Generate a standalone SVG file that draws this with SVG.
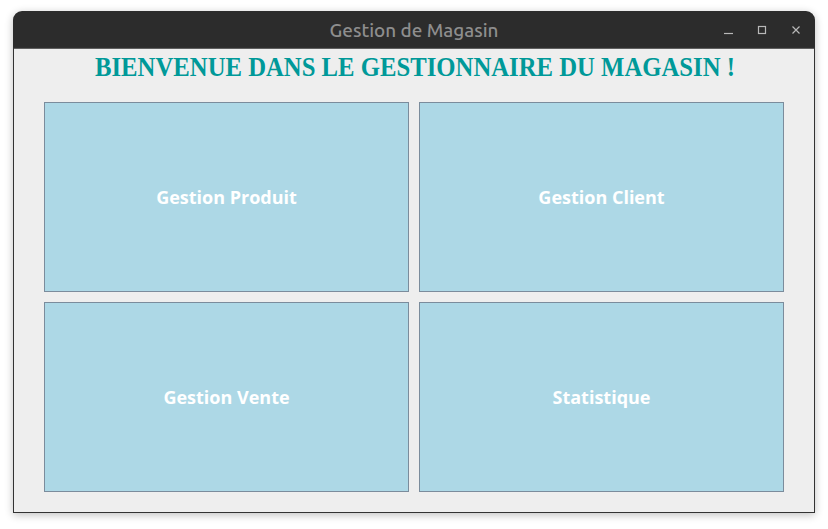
<svg xmlns="http://www.w3.org/2000/svg" width="828" height="529" viewBox="0 0 828 529">
<defs>
<filter id="sh" x="-5%" y="-5%" width="110%" height="112%">
<feGaussianBlur in="SourceAlpha" stdDeviation="4"/>
<feOffset dy="2"/>
<feComponentTransfer><feFuncA type="linear" slope="0.25"/></feComponentTransfer>
<feMerge><feMergeNode/><feMergeNode in="SourceGraphic"/></feMerge>
</filter>
<clipPath id="win"><rect x="13" y="11" width="802" height="502" rx="9"/></clipPath>
</defs>
<style>
.btn{fill:#add8e6;stroke:#7b8c9c;stroke-width:1}
.lbl{font-family:"Open Sans","Noto Sans",sans-serif;font-weight:bold;font-size:18px;fill:#ffffff;text-anchor:middle}
.ctl{stroke:#b8b8b8;stroke-width:1.2;fill:none}
</style>
<rect width="828" height="529" fill="#ffffff"/>
<g id="window">
<g filter="url(#sh)">
<path d="M13,20 a9,9 0 0 1 9,-9 h784 a9,9 0 0 1 9,9 v493 h-802 z" fill="#eeeeee"/>
</g>
<g clip-path="url(#win)">
<rect x="13" y="11" width="802" height="37.5" fill="#2c2c2c"/>
</g>
<rect x="13.5" y="48" width="801" height="464.5" fill="none" stroke="#333333" stroke-width="1"/>
<text x="414" y="36.8" font-family="Ubuntu,'Noto Sans',sans-serif" font-weight="500" font-size="18.5" fill="#8e8e8e" text-anchor="middle" textLength="169" lengthAdjust="spacingAndGlyphs">Gestion de Magasin</text>
<line class="ctl" x1="724" y1="33.5" x2="733" y2="33.5"/>
<rect class="ctl" x="758.5" y="26.5" width="7" height="7"/>
<path class="ctl" d="M792.5,26.5 l7,7 M799.5,26.5 l-7,7"/>
</g>
<g id="title">
<text x="415" y="75.5" font-family="'Liberation Serif',serif" font-weight="bold" font-size="27.5" fill="#009999" text-anchor="middle" textLength="640" lengthAdjust="spacingAndGlyphs">BIENVENUE DANS LE GESTIONNAIRE DU MAGASIN !</text>
</g>
<g id="node-produit">
<rect class="btn" x="44.5" y="102.5" width="364" height="189"/>
<text class="lbl" x="226.5" y="203.5">Gestion Produit</text>
</g>
<g id="node-client">
<rect class="btn" x="419.5" y="102.5" width="364" height="189"/>
<text class="lbl" x="601.5" y="203.5">Gestion Client</text>
</g>
<g id="node-vente">
<rect class="btn" x="44.5" y="302.5" width="364" height="189"/>
<text class="lbl" x="226.5" y="403.5">Gestion Vente</text>
</g>
<g id="node-stat">
<rect class="btn" x="419.5" y="302.5" width="364" height="189"/>
<text class="lbl" x="601.5" y="403.5">Statistique</text>
</g>
<g id="connectors"/>
</svg>
